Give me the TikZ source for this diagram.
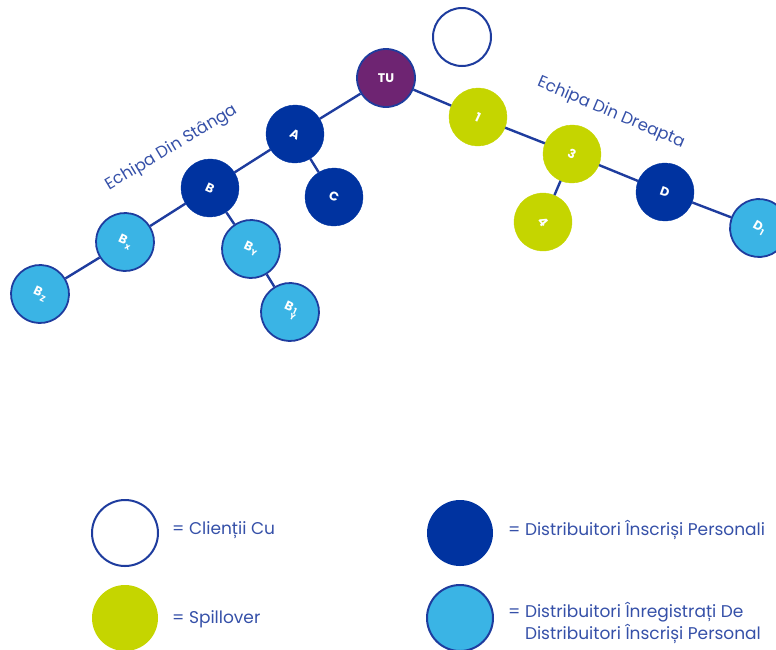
\documentclass[tikz,border=0pt]{standalone}
\usepackage{fontspec}
\setmainfont{Poppins}
\definecolor{dblue}{HTML}{0033A0}
\definecolor{lblue}{HTML}{3AB4E5}
\definecolor{limec}{HTML}{C5D500}
\definecolor{purp}{HTML}{6E2472}
\definecolor{edgec}{HTML}{1E3C9E}
\definecolor{txtc}{HTML}{3550A8}
\newcommand{\lowidx}[1]{\kern0.5pt\raisebox{-3pt}{\fontsize{8.5}{8.5}\selectfont #1}}
\newcommand{\updnidx}[2]{\kern0.5pt\raisebox{-4pt}{\fontsize{8.5}{8.5}\selectfont\begin{tabular}{@{}c@{}}#1\\[-3pt]#2\end{tabular}}}
\begin{document}
\begin{tikzpicture}[x=1pt,y=-1pt,
  mem/.style={circle, minimum size=58pt, inner sep=0pt, text=white,
    font=\bfseries\fontsize{12.5}{12.5}\selectfont},
  clientnode/.style={mem, draw=edgec, line width=2pt, fill=white},
  darknode/.style={mem, draw=dblue, fill=dblue},
  limenode/.style={mem, draw=limec, fill=limec},
  lightnode/.style={mem, draw=edgec, line width=1.8pt, fill=lblue},
  younode/.style={mem, draw=edgec, line width=1.8pt, fill=purp},
  conn/.style={draw=edgec, line width=2.4pt},
  team/.style={text=txtc, font=\fontsize{16.5}{16.5}\selectfont, inner sep=0pt},
  legc/.style={circle, minimum size=66pt, inner sep=0pt},
  legt/.style={text=txtc, font=\fontsize{17}{22}\selectfont, anchor=west, inner sep=0pt, align=left}
]
\useasboundingbox (0,0) rectangle (776,649);
% tree nodes
\node[clientnode] (cl) at (462,37) {};
\node[younode] (tu) at (386,78) {TU};
\node[darknode, rotate=-25] (a) at (295,134) {A};
\node[darknode, rotate=-25] (c) at (334,197) {C};
\node[darknode, rotate=-25] (b) at (210,188) {B};
\node[lightnode, rotate=-25] (bx) at (125,242) {B\lowidx{x}};
\node[lightnode, rotate=-25] (by) at (251,249) {B\lowidx{Y}};
\node[lightnode, rotate=-25] (by1) at (290,312) {B\updnidx{1}{Y}};
\node[lightnode, rotate=-25] (bz) at (40,294) {B\lowidx{Z}};
\node[limenode, rotate=-25] (n1) at (478,117) {1};
\node[limenode, rotate=-25] (n3) at (572,154) {3};
\node[limenode, rotate=-50] (n4) at (543,222) {4};
\node[darknode, rotate=-20] (d) at (665,192) {D};
\node[lightnode, rotate=-30] (d1) at (759,228) {D\lowidx{1}};
% connectors
\draw[conn] (tu) -- (a);
\draw[conn] (a) -- (b);
\draw[conn] (a) -- (c);
\draw[conn] (b) -- (bx);
\draw[conn] (bx) -- (bz);
\draw[conn] (b) -- (by);
\draw[conn] (by) -- (by1);
\draw[conn] (tu) -- (n1);
\draw[conn] (n1) -- (n3);
\draw[conn] (n3) -- (n4);
\draw[conn] (n3) -- (d);
\draw[conn] (d) -- (d1);
% team labels
\node[team, rotate=31] (lt) at (172,148) {Echipa Din Stânga};
\node[team, rotate=-23] (rt) at (611,113) {Echipa Din Dreapta};
% legend
\node[legc, draw=edgec, line width=2pt, fill=white] (l1) at (125,533) {};
\node[legt] (l1t) at (172,530) {= Clienții Cu};
\node[legc, fill=dblue] (l2) at (460,533) {};
\node[legt] (l2t) at (508,530) {= Distribuitori Înscriși Personali};
\node[legc, fill=limec] (l3) at (125,618) {};
\node[legt] (l3t) at (172,619) {= Spillover};
\node[legc, draw=edgec, line width=2pt, fill=lblue] (l4) at (460,618) {};
\node[legt] (l4t) at (508,623) {= Distribuitori Înregistrați De\\\phantom{= }Distribuitori Înscriși Personal};
\end{tikzpicture}
\end{document}
